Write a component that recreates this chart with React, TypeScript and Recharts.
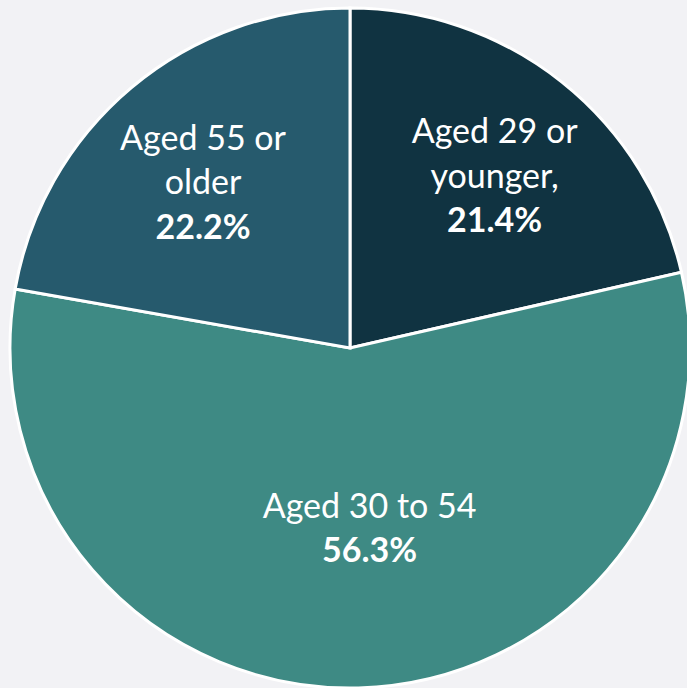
import React from "react";
import { PieChart, Pie, Cell } from "recharts";

const categories = ["Aged 29 or younger", "Aged 30 to 54", "Aged 55 or older"];
const shares = [21.4, 56.3, 22.2];
const labelLines = [
  ["Aged 29 or", "younger,"],
  ["Aged 30 to 54"],
  ["Aged 55 or", "older"],
];
const valueLabels = ["21.4%", "56.3%", "22.2%"];

const colors = ["#103341", "#3E8A84", "#265A6D"];
const labelStyle = [
  { r: 224, dx: 5, dy: 1 },
  { r: 180, dx: 15, dy: -2 },
  { r: 224, dx: -3, dy: 4 },
];

const data = categories.map((name, i) => ({ name, value: shares[i] }));

const RAD = Math.PI / 180;
const LINE = 44.5;
const FONT = "Lato, 'Open Sans', sans-serif";

const renderLabel = (props: any) => {
  const { cx, cy, midAngle, index } = props;
  const s = labelStyle[index];
  const ax = cx + s.r * Math.cos(-midAngle * RAD) + s.dx;
  const ay = cy + s.r * Math.sin(-midAngle * RAD) + s.dy;
  const lines = [...labelLines[index].map((t) => ({ t, b: false })), { t: valueLabels[index], b: true }];
  const n = lines.length;
  const top = ay - ((n - 1) * LINE) / 2;
  return (
    <text
      x={ax}
      y={top}
      fill="#ffffff"
      textAnchor="middle"
      dominantBaseline="central"
      fontFamily={FONT}
      fontSize={34}
    >
      {lines.map((l, i) => (
        <tspan key={i} x={ax} y={top + i * LINE} fontWeight={l.b ? 700 : 400}>
          {l.t}
        </tspan>
      ))}
    </text>
  );
};

export default function App() {
  return (
    <div
      style={{
        position: "absolute",
        left: 0,
        top: 0,
        width: 687,
        height: 688,
        background: "#F2F2F5",
        overflow: "hidden",
      }}
    >
      <PieChart width={687} height={688} margin={{ top: 0, right: 0, bottom: 0, left: 0 }}>
        <Pie
          data={data}
          dataKey="value"
          nameKey="name"
          cx={350}
          cy={348}
          outerRadius={340}
          startAngle={90}
          endAngle={-270}
          stroke="#ffffff"
          strokeWidth={3}
          label={renderLabel}
          labelLine={false}
          isAnimationActive={false}
        >
          {data.map((d, i) => (
            <Cell key={d.name} fill={colors[i]} />
          ))}
        </Pie>
      </PieChart>
    </div>
  );
}
